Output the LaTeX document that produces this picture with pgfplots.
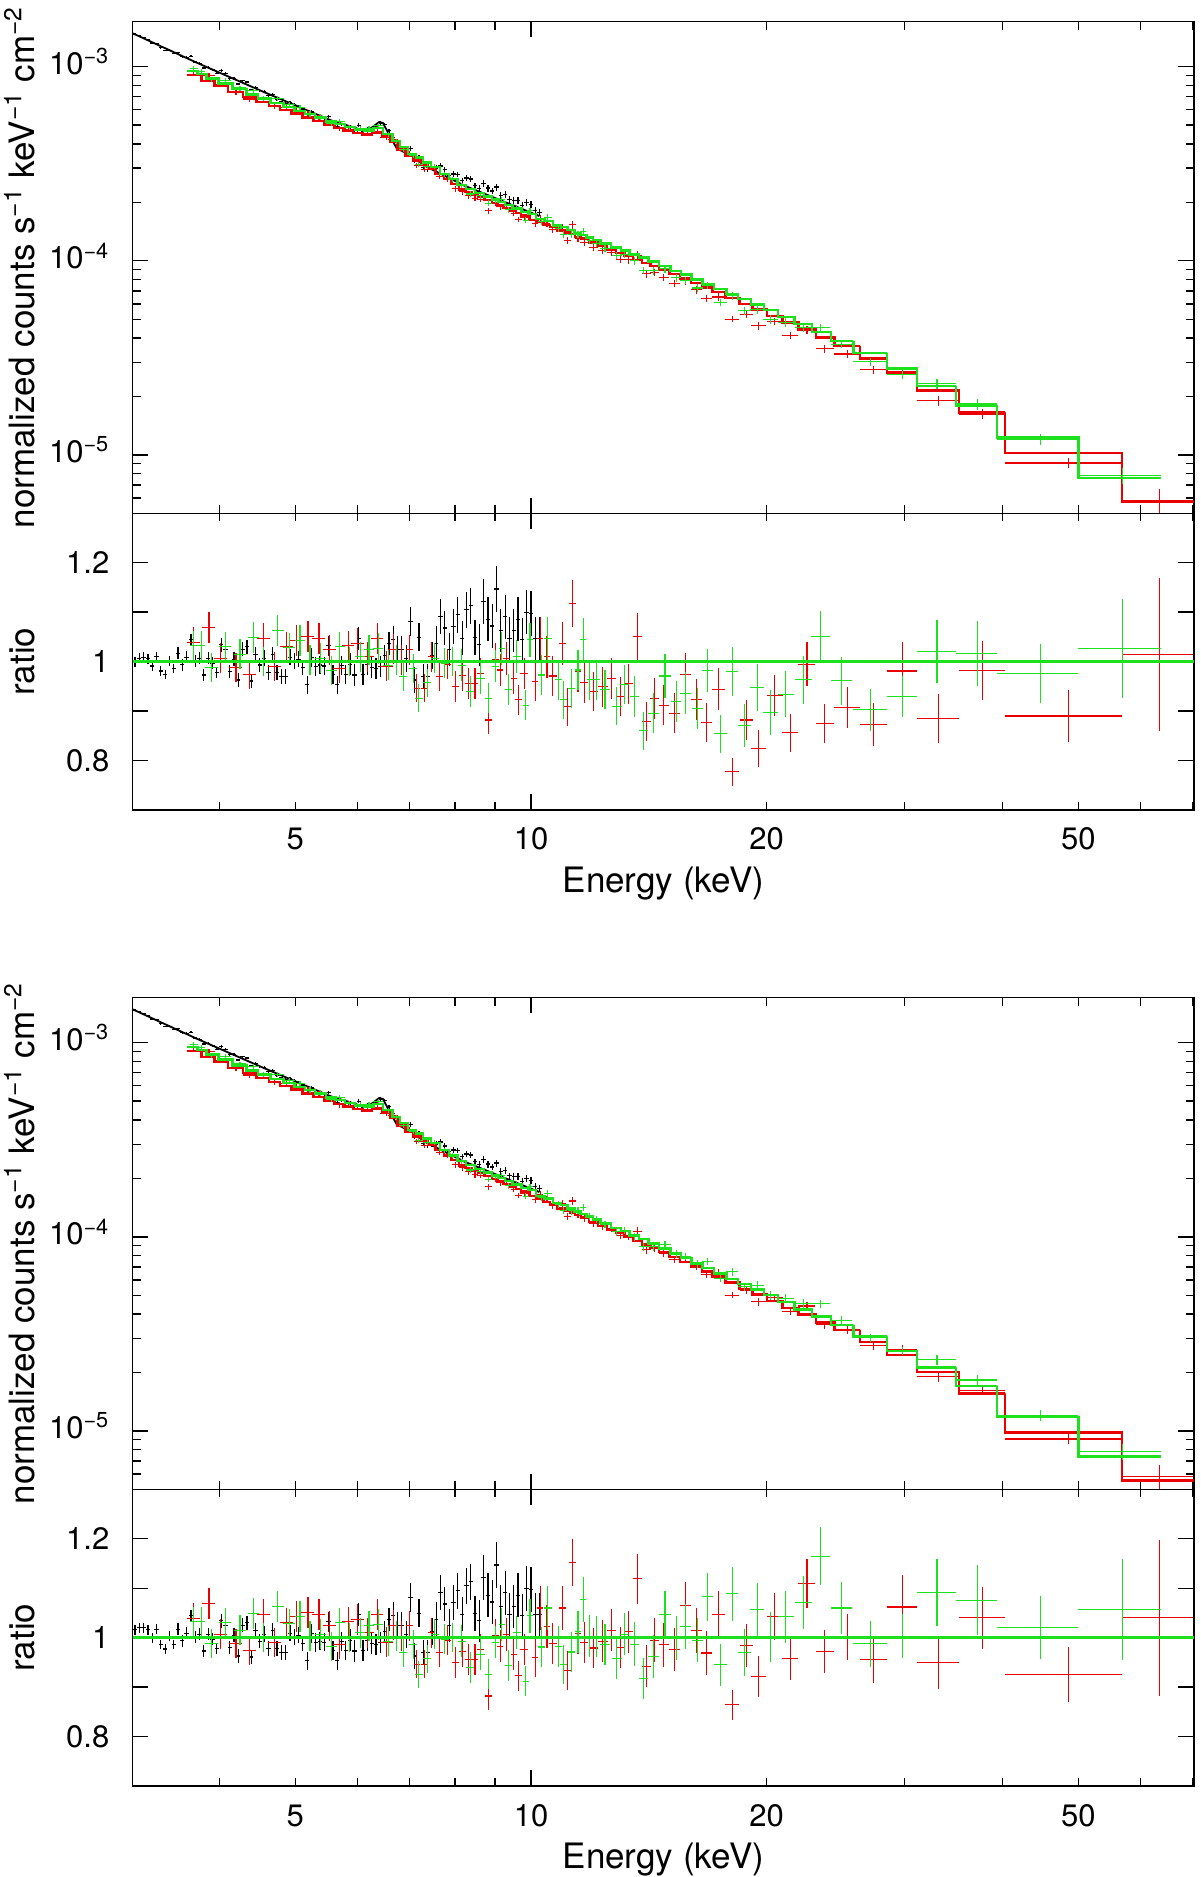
\documentclass[border=0pt]{standalone}
\usepackage{fontspec}
\setmainfont{TeX Gyre Heros}
\usepackage{pgfplots}
\usepackage{pgfplotstable}
\pgfplotsset{compat=1.18}
\pgfplotsset{error bars/draw error bar/.code 2 args={\draw[/pgfplots/error bars/error bar style] #1 -- #2;}}
\definecolor{xr}{RGB}{235,0,0}
\definecolor{xg}{RGB}{30,225,30}

% XMM (black): E, data, ratio (top), ratio (bottom), rel. error
\pgfplotstableread{
E D r1 r2 ey
3.121 1.469e-3 1.000 1.016 0.010
3.161 1.442e-3 1.007 1.020 0.010
3.201 1.413e-3 1.009 1.020 0.010
3.242 1.377e-3 1.006 1.016 0.010
3.283 1.324e-3 0.991 0.999 0.010
3.325 1.318e-3 1.010 1.017 0.010
3.367 1.253e-3 0.981 0.986 0.010
3.410 1.213e-3 0.974 0.977 0.010
3.453 1.216e-3 1.001 1.003 0.010
3.497 1.172e-3 0.986 0.986 0.010
3.542 1.180e-3 1.017 1.017 0.012
3.587 1.127e-3 0.994 0.994 0.012
3.633 1.119e-3 1.009 1.009 0.012
3.679 1.130e-3 1.044 1.044 0.012
3.726 1.057e-3 1.001 1.001 0.012
3.773 1.040e-3 1.007 1.007 0.012
3.821 9.84e-4 0.973 0.973 0.012
3.870 9.95e-4 1.007 1.007 0.012
3.919 9.64e-4 0.997 0.997 0.012
3.969 9.25e-4 0.978 0.978 0.012
4.020 9.55e-4 1.034 1.034 0.014
4.071 9.25e-4 1.024 1.024 0.014
4.123 8.67e-4 0.980 0.980 0.014
4.175 8.69e-4 1.005 1.005 0.014
4.228 8.15e-4 0.963 0.963 0.014
4.282 8.47e-4 1.025 1.025 0.014
4.337 8.34e-4 1.030 1.030 0.014
4.392 7.60e-4 0.961 0.961 0.014
4.448 7.85e-4 1.015 1.015 0.014
4.505 7.52e-4 0.993 0.993 0.014
4.562 7.45e-4 1.007 1.007 0.016
4.620 7.08e-4 0.978 0.978 0.016
4.679 7.19e-4 1.014 1.014 0.016
4.739 6.78e-4 0.978 0.978 0.016
4.799 6.59e-4 0.970 0.970 0.016
4.860 6.44e-4 0.970 0.970 0.016
4.922 6.56e-4 1.009 1.009 0.016
4.985 6.37e-4 1.001 1.001 0.016
5.048 6.25e-4 1.005 1.005 0.016
5.112 6.03e-4 0.988 0.988 0.016
5.177 5.69e-4 0.953 0.953 0.019
5.243 5.89e-4 1.009 1.009 0.019
5.310 5.66e-4 0.990 0.990 0.019
5.378 5.55e-4 0.993 0.993 0.019
5.446 5.42e-4 0.991 0.991 0.019
5.515 5.53e-4 1.032 1.032 0.019
5.585 5.13e-4 0.974 0.974 0.019
5.656 4.93e-4 0.953 0.953 0.019
5.728 5.05e-4 0.992 0.992 0.019
5.801 4.89e-4 0.974 0.974 0.019
5.875 4.91e-4 0.995 0.995 0.022
5.950 4.72e-4 0.973 0.973 0.022
6.026 5.00e-4 1.047 1.047 0.022
6.103 4.65e-4 0.974 0.974 0.022
6.181 4.76e-4 0.995 0.995 0.022
6.260 4.79e-4 0.988 0.988 0.022
6.340 4.97e-4 0.986 0.986 0.022
6.421 5.13e-4 0.990 0.990 0.022
6.503 5.02e-4 1.012 1.012 0.022
6.586 4.68e-4 1.037 1.037 0.022
6.670 4.30e-4 1.044 1.044 0.027
6.755 3.87e-4 1.024 1.024 0.027
6.841 3.78e-4 1.024 1.024 0.027
6.928 3.62e-4 1.007 1.007 0.027
7.016 3.79e-4 1.081 1.081 0.027
7.105 3.28e-4 0.963 0.963 0.027
7.195 3.42e-4 1.049 1.049 0.027
7.287 3.03e-4 0.970 0.970 0.027
7.380 2.95e-4 0.970 0.970 0.027
7.474 3.00e-4 1.012 1.012 0.027
7.569 3.00e-4 1.037 1.037 0.033
7.665 3.08e-4 1.091 1.091 0.033
7.763 2.94e-4 1.068 1.068 0.033
7.862 2.74e-4 1.024 1.024 0.033
7.962 2.80e-4 1.071 1.071 0.033
8.063 2.79e-4 1.095 1.095 0.033
8.166 2.59e-4 1.047 1.047 0.033
8.270 2.67e-4 1.105 1.105 0.033
8.375 2.64e-4 1.113 1.113 0.033
8.482 2.44e-4 1.049 1.049 0.033
8.590 2.35e-4 1.034 1.034 0.041
8.699 2.50e-4 1.122 1.122 0.041
8.810 2.37e-4 1.086 1.086 0.041
8.922 2.29e-4 1.072 1.072 0.041
9.036 2.40e-4 1.147 1.147 0.041
9.151 2.18e-4 1.063 1.063 0.041
9.267 2.19e-4 1.091 1.091 0.041
9.385 2.06e-4 1.047 1.047 0.041
9.505 2.05e-4 1.063 1.063 0.041
9.626 2.05e-4 1.086 1.086 0.041
9.748 1.93e-4 1.045 1.045 0.041
9.872 1.99e-4 1.100 1.100 0.041
9.998 1.95e-4 1.097 1.097 0.041
10.125 1.82e-4 1.047 1.047 0.041
10.254 1.78e-4 1.047 1.047 0.041
}\blk

% XMM model
\pgfplotstableread{
E M
3.10 1.486e-3
3.74 1.050e-3
4.55 7.43e-4
5.54 5.31e-4
6.05 4.75e-4
6.24 4.81e-4
6.40 5.19e-4
6.47 5.13e-4
6.61 4.36e-4
6.74 3.79e-4
7.08 3.44e-4
7.29 3.11e-4
8.20 2.45e-4
10.25 1.70e-4
}\blkmod

% FPMA (red): E, rel. half width, data, ratio top, ratio bottom, rel. error
\pgfplotstableread{
E ex D r1 r2 ey
3.71 0.019 9.43e-4 1.039 1.039 0.030
3.88 0.019 9.01e-4 1.069 1.069 0.030
4.01 0.019 8.08e-4 1.007 1.007 0.030
4.20 0.019 7.33e-4 0.988 0.988 0.030
4.37 0.019 6.82e-4 0.974 0.974 0.030
4.55 0.019 6.87e-4 1.047 1.047 0.030
4.70 0.019 6.22e-4 0.990 0.990 0.030
4.87 0.019 6.15e-4 1.030 1.030 0.030
5.02 0.019 5.97e-4 1.042 1.042 0.030
5.19 0.019 5.75e-4 1.051 1.051 0.030
5.36 0.019 5.48e-4 1.046 1.046 0.030
5.53 0.019 5.15e-4 1.024 1.024 0.030
5.69 0.019 4.78e-4 0.986 0.986 0.030
5.84 0.019 4.85e-4 1.032 1.032 0.030
6.01 0.019 4.71e-4 1.036 1.036 0.030
6.18 0.019 4.52e-4 1.010 1.010 0.030
6.36 0.019 4.80e-4 1.047 1.047 0.030
6.54 0.019 4.33e-4 0.991 0.991 0.030
6.67 0.015 4.20e-4 1.025 1.025 0.030
6.83 0.012 3.75e-4 1.003 1.003 0.030
7.00 0.010 3.57e-4 1.024 1.024 0.030
7.15 0.010 3.11e-4 0.946 0.946 0.030
7.32 0.010 2.95e-4 0.946 0.946 0.030
7.46 0.010 3.01e-4 1.010 1.010 0.030
7.65 0.010 2.71e-4 0.970 0.970 0.030
7.83 0.010 2.62e-4 0.995 0.995 0.030
8.00 0.010 2.35e-4 0.949 0.949 0.033
8.18 0.010 2.27e-4 0.972 0.972 0.033
8.32 0.010 2.16e-4 0.955 0.955 0.033
8.48 0.010 2.09e-4 0.955 0.955 0.033
8.63 0.010 2.08e-4 0.976 0.976 0.033
8.82 0.010 1.81e-4 0.882 0.882 0.033
9.00 0.010 1.99e-4 1.005 1.005 0.033
9.13 0.010 1.90e-4 0.983 0.983 0.033
9.31 0.010 1.88e-4 1.007 1.007 0.033
9.51 0.010 1.75e-4 0.966 0.966 0.033
9.63 0.010 1.63e-4 0.923 0.923 0.033
9.80 0.012 1.67e-4 0.976 0.976 0.033
10.12 0.010 1.56e-4 0.959 0.959 0.040
10.27 0.010 1.66e-4 1.047 1.060 0.042
10.48 0.010 1.55e-4 1.010 1.023 0.042
10.66 0.012 1.45e-4 0.971 0.989 0.042
10.96 0.010 1.48e-4 1.036 1.060 0.042
11.12 0.010 1.27e-4 0.909 0.933 0.042
11.29 0.010 1.53e-4 1.118 1.152 0.042
11.48 0.010 1.30e-4 0.980 1.009 0.042
11.69 0.012 1.24e-4 0.957 0.991 0.042
12.01 0.014 1.17e-4 0.940 0.979 0.042
12.35 0.014 1.13e-4 0.949 0.993 0.042
12.67 0.013 1.10e-4 0.966 1.015 0.042
13.01 0.012 1.02e-4 0.929 0.980 0.042
13.31 0.013 1.01e-4 0.955 1.012 0.042
13.68 0.014 1.07e-4 1.051 1.119 0.045
14.04 0.013 8.57e-5 0.879 0.942 0.045
14.37 0.013 8.71e-5 0.926 0.995 0.045
14.78 0.015 8.21e-5 0.912 0.986 0.045
15.26 0.016 7.65e-5 0.896 0.976 0.045
15.76 0.016 7.88e-5 0.974 1.065 0.045
16.28 0.016 7.08e-5 0.923 1.015 0.045
16.77 0.016 6.40e-5 0.877 0.969 0.045
17.35 0.019 6.51e-5 0.944 1.047 0.045
18.07 0.021 5.00e-5 0.777 0.864 0.036
18.84 0.020 5.29e-5 0.882 0.984 0.045
19.54 0.022 4.63e-5 0.824 0.921 0.045
20.48 0.023 4.86e-5 0.932 1.043 0.045
21.44 0.024 4.12e-5 0.856 0.957 0.045
22.51 0.025 4.40e-5 0.995 1.110 0.045
23.73 0.027 3.52e-5 0.875 0.972 0.045
25.35 0.0375 3.31e-5 0.907 1.001 0.046
27.40 0.040 2.74e-5 0.873 0.955 0.049
29.80 0.0436 2.61e-5 0.981 1.062 0.060
33.15 0.062 1.90e-5 0.885 0.949 0.055
37.75 0.0675 1.62e-5 0.982 1.040 0.060
48.55 0.170 9.08e-6 0.890 0.926 0.060
63.40 0.104 5.79e-6 1.015 1.040 0.152
}\red

% FPMA model steps (top fit m1, bottom fit m2)
\pgfplotstableread{
E m1 m2
3.64 9.08e-4 9.08e-4
3.71 9.08e-4 9.08e-4
3.88 8.43e-4 8.43e-4
4.01 8.02e-4 8.02e-4
4.20 7.42e-4 7.42e-4
4.37 7.00e-4 7.00e-4
4.55 6.56e-4 6.56e-4
4.70 6.28e-4 6.28e-4
4.87 5.97e-4 5.97e-4
5.02 5.73e-4 5.73e-4
5.19 5.47e-4 5.47e-4
5.36 5.24e-4 5.24e-4
5.53 5.03e-4 5.03e-4
5.69 4.85e-4 4.85e-4
5.84 4.70e-4 4.70e-4
6.01 4.54e-4 4.54e-4
6.18 4.48e-4 4.48e-4
6.36 4.59e-4 4.59e-4
6.54 4.37e-4 4.37e-4
6.67 4.10e-4 4.10e-4
6.83 3.74e-4 3.74e-4
7.00 3.48e-4 3.48e-4
7.15 3.29e-4 3.29e-4
7.32 3.12e-4 3.12e-4
7.46 2.98e-4 2.98e-4
7.65 2.80e-4 2.80e-4
7.83 2.63e-4 2.63e-4
8.00 2.48e-4 2.48e-4
8.18 2.33e-4 2.33e-4
8.32 2.26e-4 2.26e-4
8.48 2.19e-4 2.19e-4
8.63 2.13e-4 2.13e-4
8.82 2.05e-4 2.05e-4
9.00 1.98e-4 1.98e-4
9.13 1.93e-4 1.93e-4
9.31 1.87e-4 1.87e-4
9.51 1.81e-4 1.81e-4
9.63 1.76e-4 1.76e-4
9.80 1.71e-4 1.71e-4
10.12 1.62e-4 1.62e-4
10.27 1.58e-4 1.567e-4
10.48 1.53e-4 1.510e-4
10.66 1.49e-4 1.464e-4
10.96 1.43e-4 1.398e-4
11.12 1.40e-4 1.365e-4
11.29 1.37e-4 1.333e-4
11.48 1.33e-4 1.291e-4
11.69 1.30e-4 1.256e-4
12.01 1.24e-4 1.192e-4
12.35 1.19e-4 1.139e-4
12.67 1.14e-4 1.087e-4
13.01 1.10e-4 1.044e-4
13.31 1.06e-4 1.002e-4
13.68 1.01e-4 9.50e-5
14.04 9.75e-5 9.13e-5
14.37 9.40e-5 8.76e-5
14.78 9.00e-5 8.35e-5
15.26 8.54e-5 7.88e-5
15.76 8.09e-5 7.42e-5
16.28 7.67e-5 7.00e-5
16.77 7.30e-5 6.64e-5
17.35 6.90e-5 6.25e-5
18.07 6.44e-5 5.81e-5
18.84 6.00e-5 5.40e-5
19.54 5.62e-5 5.04e-5
20.48 5.21e-5 4.67e-5
21.44 4.81e-5 4.31e-5
22.51 4.42e-5 3.97e-5
23.73 4.02e-5 3.62e-5
24.40 4.02e-5 3.62e-5
24.40 3.65e-5 3.32e-5
26.30 3.65e-5 3.32e-5
26.30 3.14e-5 2.88e-5
28.50 3.14e-5 2.88e-5
28.50 2.66e-5 2.46e-5
31.10 2.66e-5 2.46e-5
31.10 2.15e-5 2.01e-5
35.20 2.15e-5 2.01e-5
35.20 1.65e-5 1.56e-5
40.30 1.65e-5 1.56e-5
40.30 1.02e-5 9.81e-6
56.80 1.02e-5 9.81e-6
56.80 5.70e-6 5.56e-6
70.30 5.70e-6 5.56e-6
}\redstep

% FPMB (green)
\pgfplotstableread{
E ex D r1 r2 ey
3.71 0.011 9.81e-4 1.032 1.032 0.030
3.79 0.012 9.48e-4 1.032 1.032 0.030
3.91 0.018 8.63e-4 0.988 0.988 0.030
4.07 0.018 8.45e-4 1.030 1.030 0.030
4.25 0.018 7.77e-4 1.015 1.015 0.030
4.42 0.016 7.55e-4 1.049 1.049 0.030
4.55 0.016 6.87e-4 1.000 1.000 0.030
4.75 0.018 6.89e-4 1.063 1.063 0.030
4.91 0.017 6.36e-4 1.028 1.028 0.030
5.07 0.016 6.18e-4 1.043 1.043 0.030
5.22 0.015 5.71e-4 1.003 1.003 0.030
5.38 0.016 5.51e-4 1.007 1.007 0.030
5.56 0.016 5.13e-4 0.982 0.982 0.030
5.70 0.014 5.22e-4 1.030 1.030 0.030
5.87 0.015 4.89e-4 1.000 1.000 0.030
6.05 0.015 4.79e-4 1.010 1.010 0.030
6.21 0.014 4.80e-4 1.024 1.024 0.030
6.38 0.014 4.96e-4 1.027 1.027 0.030
6.57 0.014 4.48e-4 0.993 0.993 0.030
6.74 0.012 4.14e-4 1.003 1.003 0.030
6.87 0.012 3.75e-4 0.970 0.970 0.030
7.07 0.011 3.50e-4 0.986 0.986 0.030
7.19 0.011 3.15e-4 0.926 0.926 0.030
7.37 0.011 3.07e-4 0.957 0.957 0.030
7.54 0.012 3.07e-4 1.007 1.007 0.030
7.76 0.012 2.80e-4 0.997 0.997 0.030
7.95 0.012 2.63e-4 1.000 1.000 0.030
8.16 0.012 2.44e-4 0.993 0.993 0.033
8.36 0.013 2.21e-4 0.939 0.939 0.033
8.61 0.013 2.16e-4 0.966 0.966 0.033
8.82 0.011 1.98e-4 0.926 0.926 0.033
9.00 0.010 2.05e-4 0.991 0.991 0.033
9.18 0.010 2.06e-4 1.027 1.027 0.033
9.36 0.011 1.83e-4 0.944 0.944 0.033
9.59 0.012 1.88e-4 1.010 1.010 0.033
9.85 0.008 1.62e-4 0.912 0.912 0.033
9.97 0.010 1.82e-4 1.044 1.044 0.033
10.32 0.010 1.60e-4 0.973 0.981 0.042
10.50 0.012 1.67e-4 1.046 1.060 0.042
10.84 0.010 1.47e-4 0.963 0.982 0.042
11.01 0.010 1.37e-4 0.923 0.945 0.042
11.26 0.010 1.36e-4 0.946 0.971 0.042
11.48 0.009 1.37e-4 0.983 1.012 0.042
11.66 0.009 1.42e-4 1.044 1.077 0.042
11.88 0.009 1.27e-4 0.963 1.003 0.042
12.11 0.012 1.23e-4 0.963 1.002 0.042
12.43 0.014 1.16e-4 0.944 0.987 0.042
12.87 0.014 1.06e-4 0.910 0.957 0.042
13.17 0.013 1.08e-4 0.954 1.007 0.042
13.56 0.014 1.00e-4 0.930 0.987 0.045
13.92 0.014 8.90e-5 0.860 0.917 0.045
14.32 0.016 8.88e-5 0.896 0.962 0.045
14.83 0.017 9.10e-5 0.971 1.047 0.045
15.32 0.015 8.18e-5 0.920 0.999 0.045
15.76 0.016 7.93e-5 0.936 1.023 0.045
16.32 0.016 7.24e-5 0.905 0.995 0.045
16.81 0.017 7.48e-5 0.982 1.083 0.045
17.46 0.018 6.10e-5 0.854 0.945 0.045
18.07 0.018 6.61e-5 0.980 1.089 0.050
18.72 0.019 5.52e-5 0.870 0.970 0.050
19.45 0.020 5.63e-5 0.947 1.057 0.050
20.22 0.022 5.00e-5 0.897 1.001 0.050
21.16 0.024 4.81e-5 0.934 1.042 0.050
22.28 0.025 4.54e-5 0.963 1.072 0.050
23.44 0.027 4.52e-5 1.050 1.165 0.050
24.91 0.031 3.72e-5 0.961 1.060 0.050
27.15 0.050 3.02e-5 0.903 0.988 0.047
29.80 0.0436 2.59e-5 0.929 1.003 0.045
33.00 0.0576 2.32e-5 1.020 1.091 0.062
37.15 0.0606 1.83e-5 1.017 1.076 0.065
44.70 0.1186 1.20e-5 0.976 1.020 0.062
56.90 0.1213 7.80e-6 1.027 1.057 0.097
}\grn

\pgfplotstableread{
E m1 m2
3.64 9.51e-4 9.51e-4
3.71 9.51e-4 9.51e-4
3.79 9.19e-4 9.19e-4
3.91 8.73e-4 8.73e-4
4.07 8.21e-4 8.21e-4
4.25 7.65e-4 7.65e-4
4.42 7.20e-4 7.20e-4
4.55 6.87e-4 6.87e-4
4.75 6.48e-4 6.48e-4
4.91 6.19e-4 6.19e-4
5.07 5.93e-4 5.93e-4
5.22 5.69e-4 5.69e-4
5.38 5.47e-4 5.47e-4
5.56 5.22e-4 5.22e-4
5.70 5.07e-4 5.07e-4
5.87 4.89e-4 4.89e-4
6.05 4.74e-4 4.74e-4
6.21 4.69e-4 4.69e-4
6.38 4.83e-4 4.83e-4
6.57 4.51e-4 4.51e-4
6.74 4.13e-4 4.13e-4
6.87 3.87e-4 3.87e-4
7.07 3.55e-4 3.55e-4
7.19 3.40e-4 3.40e-4
7.37 3.21e-4 3.21e-4
7.54 3.05e-4 3.05e-4
7.76 2.81e-4 2.81e-4
7.95 2.63e-4 2.63e-4
8.16 2.46e-4 2.46e-4
8.36 2.35e-4 2.35e-4
8.61 2.24e-4 2.24e-4
8.82 2.14e-4 2.14e-4
9.00 2.07e-4 2.07e-4
9.18 2.01e-4 2.01e-4
9.36 1.94e-4 1.94e-4
9.59 1.86e-4 1.86e-4
9.85 1.78e-4 1.78e-4
9.97 1.74e-4 1.74e-4
10.32 1.64e-4 1.627e-4
10.50 1.60e-4 1.579e-4
10.84 1.52e-4 1.490e-4
11.01 1.49e-4 1.455e-4
11.26 1.44e-4 1.402e-4
11.48 1.39e-4 1.350e-4
11.66 1.36e-4 1.315e-4
11.88 1.32e-4 1.272e-4
12.11 1.28e-4 1.230e-4
12.43 1.23e-4 1.176e-4
12.87 1.17e-4 1.112e-4
13.17 1.13e-4 1.070e-4
13.56 1.08e-4 1.018e-4
13.92 1.04e-4 9.76e-5
14.32 9.91e-5 9.24e-5
14.83 9.37e-5 8.69e-5
15.32 8.89e-5 8.19e-5
15.76 8.48e-5 7.78e-5
16.32 8.00e-5 7.30e-5
16.81 7.62e-5 6.93e-5
17.46 7.14e-5 6.46e-5
18.07 6.74e-5 6.08e-5
18.72 6.34e-5 5.71e-5
19.45 5.95e-5 5.34e-5
20.22 5.57e-5 5.00e-5
21.16 5.15e-5 4.62e-5
22.28 4.71e-5 4.23e-5
23.44 4.31e-5 3.88e-5
24.91 3.87e-5 3.51e-5
25.80 3.87e-5 3.51e-5
25.80 3.34e-5 3.06e-5
28.50 3.34e-5 3.06e-5
28.50 2.79e-5 2.58e-5
31.10 2.79e-5 2.58e-5
31.10 2.27e-5 2.12e-5
34.90 2.27e-5 2.12e-5
34.90 1.80e-5 1.70e-5
39.40 1.80e-5 1.70e-5
39.40 1.23e-5 1.18e-5
50.00 1.23e-5 1.18e-5
50.00 7.60e-6 7.38e-6
63.80 7.60e-6 7.38e-6
}\grnstep

\newcommand{\lab}{\fontsize{17.5}{21}\selectfont}
\newcommand{\tl}{\fontsize{15.5}{18}\selectfont}

\begin{document}
\begin{tikzpicture}
\path[use as bounding box] (0,0) rectangle (600pt,938.5pt);

% ---------- first fit: spectrum ----------
\begin{axis}[at={(66.35pt,681.85pt)}, anchor=south west, scale only axis, width=530.65pt, height=245.8pt,
    xmode=log, xmin=3.1, xmax=70.26, ymode=log, ymin=5e-6, ymax=1.706e-3, tick align=inside,
    axis line style={line width=0.7pt}, tick style={black, line width=0.7pt},
    major tick length=7.85pt, minor tick length=4pt,
    xtick={10}, extra x ticks={5,20,50}, extra x tick style={major tick length=4pt},
    minor xtick={4,6,7,8,9,30,40,60,70}, xticklabels={}, extra x tick labels={},
    ytick={1e-5,1e-4,1e-3},
    yticklabels={10\textsuperscript{−5},10\textsuperscript{−4},10\textsuperscript{−3}},
    minor ytick={6e-6,7e-6,8e-6,9e-6,2e-5,3e-5,4e-5,5e-5,6e-5,7e-5,8e-5,9e-5,2e-4,3e-4,4e-4,5e-4,6e-4,7e-4,8e-4,9e-4},
    tick label style={font=\tl},
    yticklabel style={anchor=east, inner sep=0pt, xshift=-11.5pt, yshift=2.5pt}]
\addplot[draw=none, mark=none, error bars/.cd, x dir=both, x fixed relative=0.0063, y dir=both, y explicit relative, error bar style={draw=black, line width=0.6pt}] table[x=E, y=D, y error=ey] {\blk};
\addplot[black, line width=0.9pt] table[x=E, y=M] {\blkmod};
\addplot[draw=none, mark=none, error bars/.cd, x dir=both, x explicit relative, y dir=both, y explicit relative, error bar style={draw=xr, line width=0.55pt}] table[x=E, y=D, x error=ex, y error=ey] {\red};
\addplot[xr, line width=1.2pt, mark=none, const plot mark mid] table[x=E, y=m1] {\redstep};
\addplot[draw=none, mark=none, error bars/.cd, x dir=both, x explicit relative, y dir=both, y explicit relative, error bar style={draw=xg, line width=0.55pt}] table[x=E, y=D, x error=ex, y error=ey] {\grn};
\addplot[xg, line width=1.2pt, mark=none, const plot mark mid] table[x=E, y=m1] {\grnstep};
\end{axis}

% ---------- first fit: ratio ----------
\begin{axis}[at={(66.35pt,533.5pt)}, anchor=south west, scale only axis, width=530.65pt, height=148.35pt,
    xmode=log, xmin=3.1, xmax=70.26, ymin=0.7, ymax=1.3, tick align=inside,
    axis line style={line width=0.7pt}, tick style={black, line width=0.7pt},
    major tick length=7.85pt, minor tick length=4pt,
    xtick={10}, extra x ticks={5,20,50}, extra x tick style={major tick length=4pt},
    minor xtick={4,6,7,8,9,30,40,60,70}, xticklabels={10}, extra x tick labels={5,20,50},
    ytick={0.8,0.9,1,1.1,1.2}, yticklabels={0.8,,1,,1.2},
    tick label style={font=\tl},
    yticklabel style={anchor=east, inner sep=0pt, xshift=-11.5pt},
    xticklabel style={anchor=base, inner sep=0pt, yshift=-20pt}]
\addplot[draw=none, mark=none, error bars/.cd, x dir=both, x fixed relative=0.0063, y dir=both, y explicit relative, error bar style={draw=black, line width=0.6pt}] table[x=E, y=r1, y error=ey] {\blk};
\addplot[draw=none, mark=none, error bars/.cd, x dir=both, x explicit relative, y dir=both, y explicit relative, error bar style={draw=xr, line width=0.55pt}] table[x=E, y=r1, x error=ex, y error=ey] {\red};
\addplot[draw=none, mark=none, error bars/.cd, x dir=both, x explicit relative, y dir=both, y explicit relative, error bar style={draw=xg, line width=0.55pt}] table[x=E, y=r1, x error=ex, y error=ey] {\grn};
\addplot[xg, line width=1.3pt, mark=none] coordinates {(3.1,1) (70.26,1)};
\end{axis}

% ---------- second fit: spectrum ----------
\begin{axis}[at={(66.35pt,193.85pt)}, anchor=south west, scale only axis, width=530.65pt, height=245.8pt,
    xmode=log, xmin=3.1, xmax=70.26, ymode=log, ymin=5e-6, ymax=1.706e-3, tick align=inside,
    axis line style={line width=0.7pt}, tick style={black, line width=0.7pt},
    major tick length=7.85pt, minor tick length=4pt,
    xtick={10}, extra x ticks={5,20,50}, extra x tick style={major tick length=4pt},
    minor xtick={4,6,7,8,9,30,40,60,70}, xticklabels={}, extra x tick labels={},
    ytick={1e-5,1e-4,1e-3},
    yticklabels={10\textsuperscript{−5},10\textsuperscript{−4},10\textsuperscript{−3}},
    minor ytick={6e-6,7e-6,8e-6,9e-6,2e-5,3e-5,4e-5,5e-5,6e-5,7e-5,8e-5,9e-5,2e-4,3e-4,4e-4,5e-4,6e-4,7e-4,8e-4,9e-4},
    tick label style={font=\tl},
    yticklabel style={anchor=east, inner sep=0pt, xshift=-11.5pt, yshift=2.5pt}]
\addplot[draw=none, mark=none, error bars/.cd, x dir=both, x fixed relative=0.0063, y dir=both, y explicit relative, error bar style={draw=black, line width=0.6pt}] table[x=E, y=D, y error=ey] {\blk};
\addplot[black, line width=0.9pt] table[x=E, y=M] {\blkmod};
\addplot[draw=none, mark=none, error bars/.cd, x dir=both, x explicit relative, y dir=both, y explicit relative, error bar style={draw=xr, line width=0.55pt}] table[x=E, y=D, x error=ex, y error=ey] {\red};
\addplot[xr, line width=1.2pt, mark=none, const plot mark mid] table[x=E, y=m2] {\redstep};
\addplot[draw=none, mark=none, error bars/.cd, x dir=both, x explicit relative, y dir=both, y explicit relative, error bar style={draw=xg, line width=0.55pt}] table[x=E, y=D, x error=ex, y error=ey] {\grn};
\addplot[xg, line width=1.2pt, mark=none, const plot mark mid] table[x=E, y=m2] {\grnstep};
\end{axis}

% ---------- second fit: ratio ----------
\begin{axis}[at={(66.35pt,45.5pt)}, anchor=south west, scale only axis, width=530.65pt, height=148.35pt,
    xmode=log, xmin=3.1, xmax=70.26, ymin=0.7, ymax=1.3, tick align=inside,
    axis line style={line width=0.7pt}, tick style={black, line width=0.7pt},
    major tick length=7.85pt, minor tick length=4pt,
    xtick={10}, extra x ticks={5,20,50}, extra x tick style={major tick length=4pt},
    minor xtick={4,6,7,8,9,30,40,60,70}, xticklabels={10}, extra x tick labels={5,20,50},
    ytick={0.8,0.9,1,1.1,1.2}, yticklabels={0.8,,1,,1.2},
    tick label style={font=\tl},
    yticklabel style={anchor=east, inner sep=0pt, xshift=-11.5pt},
    xticklabel style={anchor=base, inner sep=0pt, yshift=-20pt}]
\addplot[draw=none, mark=none, error bars/.cd, x dir=both, x fixed relative=0.0063, y dir=both, y explicit relative, error bar style={draw=black, line width=0.6pt}] table[x=E, y=r2, y error=ey] {\blk};
\addplot[draw=none, mark=none, error bars/.cd, x dir=both, x explicit relative, y dir=both, y explicit relative, error bar style={draw=xr, line width=0.55pt}] table[x=E, y=r2, x error=ex, y error=ey] {\red};
\addplot[draw=none, mark=none, error bars/.cd, x dir=both, x explicit relative, y dir=both, y explicit relative, error bar style={draw=xg, line width=0.55pt}] table[x=E, y=r2, x error=ex, y error=ey] {\grn};
\addplot[xg, line width=1.3pt, mark=none] coordinates {(3.1,1) (70.26,1)};
\end{axis}

% ---------- axis titles ----------
\node[rotate=90, anchor=base, font=\lab] at (17pt,804.75pt) {normalized counts s\textsuperscript{−1} keV\textsuperscript{−1} cm\textsuperscript{−2}};
\node[rotate=90, anchor=base, font=\lab] at (17pt,607.65pt) {ratio};
\node[anchor=base, font=\lab] at (331.7pt,492pt) {Energy (keV)};
\node[rotate=90, anchor=base, font=\lab] at (17pt,316.75pt) {normalized counts s\textsuperscript{−1} keV\textsuperscript{−1} cm\textsuperscript{−2}};
\node[rotate=90, anchor=base, font=\lab] at (17pt,119.65pt) {ratio};
\node[anchor=base, font=\lab] at (331.7pt,4.5pt) {Energy (keV)};
\end{tikzpicture}
\end{document}
